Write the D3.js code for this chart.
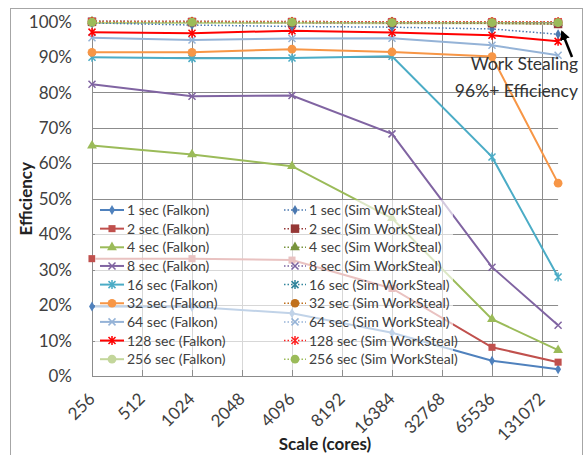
<!DOCTYPE html>
<html>
<head>
<meta charset="utf-8">
<script src="https://cdn.jsdelivr.net/npm/d3@7"></script>
<style>
  body { margin: 0; background: #fff; }
  svg text { font-family: Lato, "Open Sans", sans-serif; }
</style>
</head>
<body>
<div id="chart"></div>
<script>
// cores at which each run was measured
const cores = [256, 1024, 4096, 16384, 65536, 163840];
const tickCores = [256, 512, 1024, 2048, 4096, 8192, 16384, 32768, 65536, 131072];
const yTicks = [0, 10, 20, 30, 40, 50, 60, 70, 80, 90, 100];
const durations = ["1 sec", "2 sec", "4 sec", "8 sec", "16 sec", "32 sec", "64 sec", "128 sec", "256 sec"];

// efficiency (%) per task duration, Falkon
const falkonEff = [
  [19.6, 19.5, 17.7, 12.2, 4.3, 1.9],
  [33.1, 33.1, 32.7, 24.7, 8.1, 3.9],
  [65.0, 62.5, 59.2, 44.5, 16.0, 7.3],
  [82.3, 78.9, 79.1, 68.3, 30.7, 14.3],
  [89.9, 89.6, 89.7, 90.2, 61.8, 27.9],
  [91.3, 91.3, 92.2, 91.4, 90.1, 54.4],
  [95.4, 94.8, 95.2, 95.3, 93.3, 90.5],
  [97.0, 96.7, 97.4, 96.9, 96.1, 94.4],
  [99.6, 99.6, 99.6, 99.5, 99.5, 99.3]
];
// efficiency (%) per task duration, simulated work stealing
const simEff = [
  [99.6, 99.0, 98.6, 98.4, 97.9, 96.4],
  [99.9, 99.8, 99.7, 99.6, 99.5, 99.3],
  [100, 99.9, 99.8, 99.8, 99.7, 99.6],
  [100, 99.9, 99.9, 99.8, 99.8, 99.7],
  [100, 100, 99.9, 99.9, 99.8, 99.8],
  [100, 100, 99.9, 99.9, 99.9, 99.8],
  [100, 100, 100, 99.9, 99.9, 99.8],
  [100, 100, 100, 99.9, 99.9, 99.9],
  [99.8, 99.8, 99.8, 99.7, 99.7, 99.7]
];

const falkonColors = ["#4F81BD", "#C0504D", "#9BBB59", "#8064A2", "#4BACC6", "#F79646", "#95B3D7", "#FF0000", "#C3D69B"];
const simColors = ["#4A78B0", "#953735", "#77933C", "#7A62A0", "#31859C", "#C0701C", "#95B3D7", "#FF2020", "#9BBB59"];
const markers = ["diamond", "square", "triangle", "x", "star", "circle", "x", "star", "circle"];

const W = 584, H = 455;
const svg = d3.select("#chart").append("svg").attr("width", W).attr("height", H);

svg.append("rect").attr("x", 10.5).attr("y", 8.5).attr("width", 572).attr("height", 460)
  .attr("fill", "#fff").attr("stroke", "#a6a6a6");

const x = d3.scaleLog().base(2).domain([256, 131072]).range([92, 542]);
const y = d3.scaleLinear().domain([0, 100]).range([376, 21.5]);
const plotRight = x(163840);

// grid
const grid = svg.append("g").attr("stroke", "#8c8c8c").attr("stroke-width", 1);
grid.selectAll(".h").data(yTicks).join("line")
  .attr("x1", x(256)).attr("x2", plotRight)
  .attr("y1", d => Math.round(y(d)) + 0.5).attr("y2", d => Math.round(y(d)) + 0.5);
grid.selectAll(".v").data(tickCores).join("line")
  .attr("x1", d => Math.round(x(d)) + 0.5).attr("x2", d => Math.round(x(d)) + 0.5)
  .attr("y1", y(100)).attr("y2", y(0));

// y labels
svg.append("g").selectAll("text").data(yTicks).join("text")
  .attr("x", 72).attr("y", d => y(d)).attr("dy", "0.36em")
  .attr("text-anchor", "end").attr("font-size", 17).attr("fill", "#404040")
  .text(d => d + "%");

// x labels
svg.append("g").selectAll("text").data(tickCores).join("text")
  .attr("transform", d => `translate(${x(d) + 4},${400}) rotate(-45)`)
  .attr("text-anchor", "end").attr("font-size", 17).attr("fill", "#404040")
  .text(d => d);

svg.append("text").attr("x", (x(256) + plotRight) / 2).attr("y", 450)
  .attr("text-anchor", "middle").attr("font-size", 17).attr("font-weight", "bold").attr("fill", "#222")
  .text("Scale (cores)");
svg.append("text").attr("transform", `translate(32,${(y(0) + y(100)) / 2}) rotate(-90)`)
  .attr("text-anchor", "middle").attr("font-size", 17).attr("font-weight", "bold").attr("fill", "#222")
  .text("Efficiency");

function drawMarker(g, type, cx, cy, color, big) {
  const s = big ? 1.2 : 1;
  if (type === "x" || type === "star") {
    const r = 3.5 * s;
    let p = `M${cx - r},${cy - r}L${cx + r},${cy + r}M${cx - r},${cy + r}L${cx + r},${cy - r}`;
    if (type === "star") p += `M${cx},${cy - r - 1}L${cx},${cy + r + 1}`;
    g.append("path").attr("d", p).attr("stroke", color).attr("stroke-width", 1.5).attr("fill", "none");
  } else {
    const sym = {diamond: d3.symbolDiamond, square: d3.symbolSquare, triangle: d3.symbolTriangle, circle: d3.symbolCircle}[type];
    const size = {diamond: 30, square: 50, triangle: 42, circle: 60}[type] * s * s;
    g.append("path").attr("d", d3.symbol(sym, size)())
      .attr("transform", `translate(${cx},${cy})`).attr("fill", color);
  }
}

const line = d3.line().x((d, i) => x(cores[i])).y(d => y(d));

function drawSeries(values, colors, dashed) {
  values.forEach((vals, k) => {
    const g = svg.append("g");
    g.append("path").datum(vals).attr("d", line).attr("fill", "none")
      .attr("stroke", colors[k]).attr("stroke-width", dashed ? 1.5 : 2)
      .attr("stroke-dasharray", dashed ? "1.5,2" : null);
    vals.forEach((v, i) => drawMarker(g, markers[k], x(cores[i]), y(v), colors[k], dashed && k === 1));
  });
}
drawSeries(falkonEff, falkonColors, false);
drawSeries(simEff, simColors, true);

// legend
const legend = svg.append("g");
legend.append("rect").attr("x", 95).attr("y", 200).attr("width", 358).attr("height", 170)
  .attr("fill", "#fff").attr("fill-opacity", 0.65);
const rowY = i => 210 + i * 18.65;
durations.forEach((d, i) => {
  const g = legend.append("g");
  g.append("line").attr("x1", 100).attr("x2", 124).attr("y1", rowY(i)).attr("y2", rowY(i))
    .attr("stroke", falkonColors[i]).attr("stroke-width", 2);
  drawMarker(g, markers[i], 112, rowY(i), falkonColors[i], false);
  g.append("text").attr("x", 127).attr("y", rowY(i)).attr("dy", "0.36em")
    .attr("font-size", 14).attr("fill", "#404040").text(`${d} (Falkon)`);
  g.append("line").attr("x1", 284).attr("x2", 306).attr("y1", rowY(i)).attr("y2", rowY(i))
    .attr("stroke", simColors[i]).attr("stroke-width", 1.5).attr("stroke-dasharray", "1.5,2");
  drawMarker(g, markers[i], 295, rowY(i), simColors[i], i === 1);
  g.append("text").attr("x", 309).attr("y", rowY(i)).attr("dy", "0.36em")
    .attr("font-size", 14).attr("fill", "#404040").text(`${d} (Sim WorkSteal)`);
});

// annotation
svg.append("defs").append("marker").attr("id", "ah").attr("viewBox", "0 0 10 10")
  .attr("refX", 8).attr("refY", 5).attr("markerWidth", 4).attr("markerHeight", 4).attr("orient", "auto")
  .append("path").attr("d", "M0,0L10,5L0,10z").attr("fill", "#000");
svg.append("line").attr("x1", 572).attr("y1", 57).attr("x2", 562).attr("y2", 32)
  .attr("stroke", "#000").attr("stroke-width", 2.5).attr("marker-end", "url(#ah)");
svg.append("text").attr("x", 578).attr("y", 70).attr("text-anchor", "end")
  .attr("font-size", 17.5).attr("fill", "#333").text("Work Stealing");
svg.append("text").attr("x", 578).attr("y", 97).attr("text-anchor", "end")
  .attr("font-size", 17.5).attr("fill", "#333").text("96%+ Efficiency");
</script>
</body>
</html>
